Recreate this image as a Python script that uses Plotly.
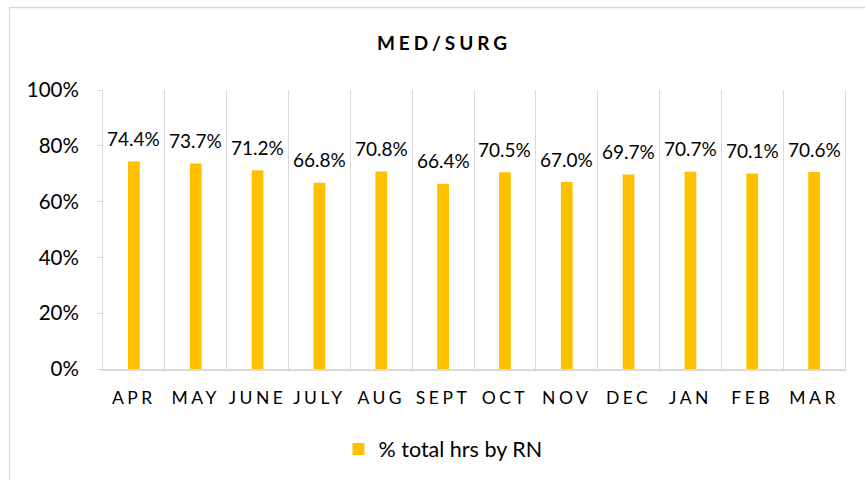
import plotly.graph_objects as go

months = ["APR", "MAY", "JUNE", "JULY", "AUG", "SEPT", "OCT", "NOV", "DEC", "JAN", "FEB", "MAR"]
pct_rn = [74.4, 73.7, 71.2, 66.8, 70.8, 66.4, 70.5, 67.0, 69.7, 70.7, 70.1, 70.6]
series_name = "% total hrs by RN"
chart_title = "MED/SURG"
y_ticks = [0, 0.2, 0.4, 0.6, 0.8, 1.0]

FONT = "Lato"
GRID = "#d9d9d9"
TXT = "#000000"
BAR = "#FFC000"

W, H = 865, 480
L, R, T, B = 103, 20, 90, 111
pw, ph = W - L - R, H - T - B

def px_x(x):
    return (x - L) / pw

def px_y(y):
    return (H - B - y) / ph

fig = go.Figure()
fig.add_trace(go.Bar(
    x=months, y=[v / 100 for v in pct_rn], name=series_name,
    marker=dict(color=BAR, line=dict(width=0)), width=0.19,
    showlegend=True,
))

for m, v in zip(months, pct_rn):
    fig.add_annotation(x=m, y=v / 100, text=f"{v:.1f}%", showarrow=False,
                       yanchor="middle", yshift=23,
                       font=dict(family=FONT, size=19, color=TXT))

fig.add_shape(type="rect", xref="paper", yref="paper",
              x0=px_x(9.5), x1=px_x(870), y0=px_y(485), y1=px_y(7.5),
              line=dict(color=GRID, width=1.3), fillcolor="rgba(0,0,0,0)", layer="below")

fig.update_layout(
    width=W, height=H,
    margin=dict(l=L, r=R, t=T, b=B, autoexpand=False),
    paper_bgcolor="white", plot_bgcolor="white",
    font=dict(family=FONT, size=19, color=TXT),
    title=dict(text="<b>" + chart_title + "</b>", x=444 / W, xanchor="center",
               y=1 - 43 / H, yanchor="middle",
               font=dict(family=FONT, size=19, color=TXT)),
    legend=dict(orientation="h", x=px_x(443), xanchor="center", y=px_y(449), yanchor="middle",
                font=dict(family=FONT, size=21.5, color=TXT), bgcolor="rgba(0,0,0,0)",
                itemwidth=30),
    bargap=0.8,
    xaxis=dict(type="category", range=[-0.5, 11.5], tickson="boundaries",
               showgrid=True, gridcolor=GRID, gridwidth=1,
               ticks="", showline=True, linecolor=GRID, linewidth=1.5,
               ticklabelstandoff=12, tickfont=dict(family=FONT, size=17.5, color=TXT)),
    yaxis=dict(range=[0, 1], tickvals=y_ticks, tickformat=".0%", showgrid=False,
               zeroline=False, ticks="outside", ticklen=5, tickcolor=GRID,
               showline=True, linecolor=GRID, linewidth=1, mirror=True,
               ticklabelstandoff=14, tickfont=dict(family=FONT, size=20.5, color=TXT)),
)

post = """
document.body.style.margin = '0';
var gd = document.getElementsByClassName('plotly-graph-div')[0];
function spacing(){
  gd.querySelectorAll('.xtick text').forEach(function(t){t.style.letterSpacing='3.5px';});
  gd.querySelectorAll('.gtitle').forEach(function(t){t.style.letterSpacing='4px';});
}
spacing();
gd.on('plotly_afterplot', spacing);
"""

fig.write_html("out.html", post_script=post, config={"displayModeBar": False})
